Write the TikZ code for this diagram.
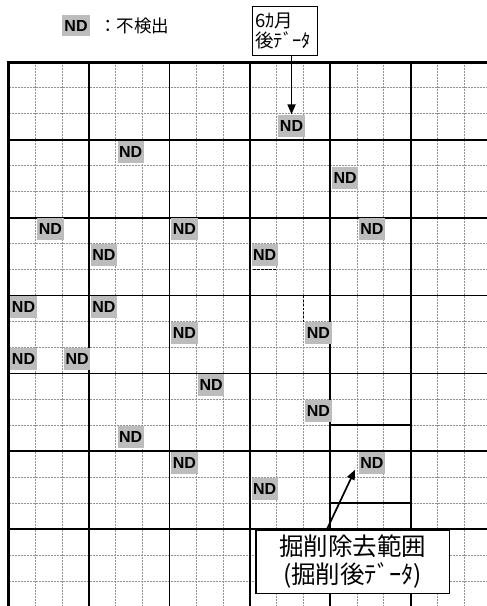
\documentclass[tikz,border=0pt]{standalone}
\usepackage{fontspec}
\setmainfont{Liberation Sans}
\newfontfamily\jp{Noto Sans CJK JP}
\usetikzlibrary{arrows.meta,calc}
\definecolor{ndgray}{RGB}{188,188,188}
\begin{document}
\begin{tikzpicture}[x=1pt,y=-1pt,
  minorline/.style={draw=gray!85, line width=1pt, dash pattern=on 2pt off 1pt},
  majorline/.style={draw=black, line width=1.8pt},
  borderline/.style={draw=black, line width=3pt},
  nd/.style={fill=ndgray, inner sep=0pt, minimum width=26.3pt, minimum height=22pt,
    font=\fontsize{16}{16}\selectfont\bfseries, anchor=north west},
  lab/.style={draw=black, line width=1.4pt, fill=white},
  arr/.style={line width=1.7pt, -{Triangle[length=10pt,width=8pt]}},
  dashmark/.style={draw=black, line width=1.7pt, dash pattern=on 2.5pt off 1.5pt},
  zone/.style={draw=black, line width=2.2pt}
]
\useasboundingbox (0,0) rectangle (487,606);
\def\gx{8.7}\def\cw{26.8}\def\gy{62}\def\rh{25.95}
\begin{scope}
\clip (0,0) rectangle (487,606);
% minor lines
\foreach \i in {1,2,4,5,7,8,10,11,13,14,16,17}
  \draw[minorline] ({\gx+\i*\cw},\gy) -- ({\gx+\i*\cw},620);
\foreach \j in {1,2,4,5,7,8,10,11,13,14,16,17,19,20}
  \draw[minorline] (\gx,{\gy+\j*\rh}) -- (500,{\gy+\j*\rh});
% major lines
\foreach \i in {3,6,9,12,15,18}
  \draw[majorline] ({\gx+\i*\cw},\gy) -- ({\gx+\i*\cw},620);
\foreach \j in {3,6,9,12,15,18,21}
  \draw[majorline] (\gx,{\gy+\j*\rh}) -- (500,{\gy+\j*\rh});
% border
\draw[borderline] (\gx,620) -- (\gx,\gy) -- (500,\gy);
\end{scope}
% ND cells
\foreach \c/\r/\n in {10/2/A,4/3/a1,12/4/a2,1/6/a3,6/6/a4,13/6/a5,3/7/a6,9/7/H,0/9/a7,3/9/a8,
  6/10/a9,11/10/b1,0/11/b2,2/11/b3,7/12/b4,11/13/b5,4/14/b6,6/15/b7,13/15/B,9/16/b8}
  \node[nd] (nd\n) at ({\gx+\c*\cw+1.5},{\gy+\r*\rh+0.5}) {ND};
% dashed marks
\draw[dashmark] (253.3,{\gy+8*\rh}) -- ({\gx+10*\cw},{\gy+8*\rh});
\draw[dashmark] ({\gx+11*\cw},{\gy+9*\rh}) -- ({\gx+11*\cw},{\gy+10*\rh});
% excavation zone
\draw[zone] ({\gx+12*\cw},{\gy+14*\rh}) rectangle ({\gx+15*\cw},{\gy+17*\rh});
% legend
\node[nd, minimum width=28.3pt, minimum height=21pt] (legnd) at (61.7,15) {ND};
\node[anchor=west, inner sep=0pt, font=\jp\fontsize{17.5}{17.5}\selectfont] (legtxt) at (99,25.5) {：不検出};
% labels
\node[lab, anchor=north west, text width=59pt, align=left, inner xsep=3pt,
  minimum height=49.3pt, font=\jp\fontsize{18.5}{19.5}\selectfont] (lab6) at (251.7,5.7) {6ｶ月\\後ﾃﾞｰﾀ};
\node[lab, align=center, minimum width=193.3pt, minimum height=62.6pt,
  font=\jp\fontsize{24.5}{28}\selectfont] (labX) at (352.65,562) {掘削除去範囲\\(掘削後ﾃﾞｰﾀ)};
% arrows
\draw[arr] (lab6.south -| ndA.north) -- (ndA.north);
\draw[arr] ([xshift=71.3pt]labX.north west) -- ([xshift=-3.5pt,yshift=4.5pt]ndB.south west);
\end{tikzpicture}
\end{document}
